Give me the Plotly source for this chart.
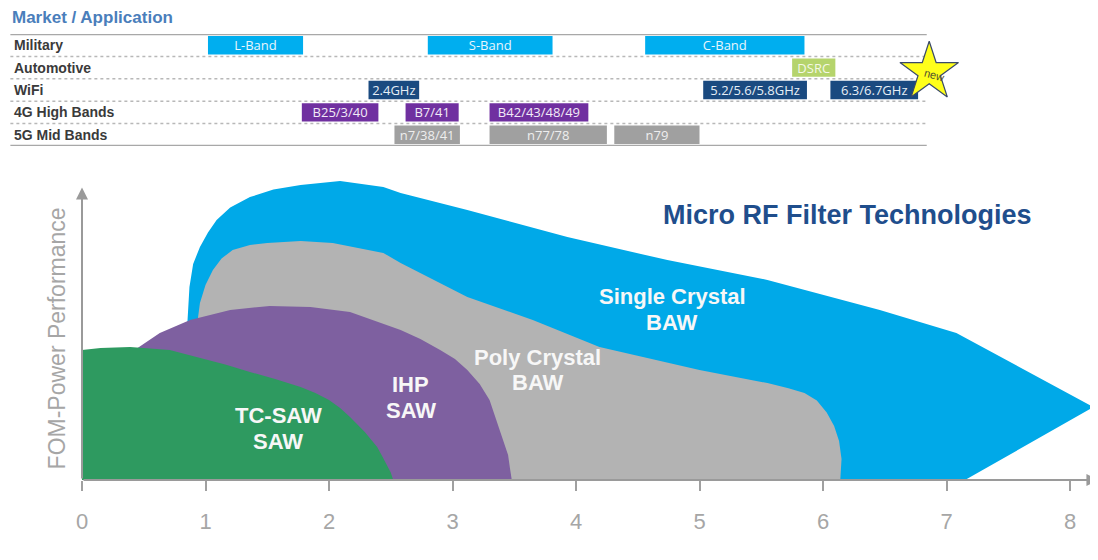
import plotly.graph_objects as go

# ---------------- data ----------------
# Technology regions: outline points (frequency in GHz, FOM-power performance in arbitrary units)
single_baw_x = [0.83, 0.84, 0.85, 0.87, 0.90, 0.955, 1.02, 1.09, 1.20, 1.36, 1.55, 1.77, 2.09, 2.44, 2.58, 3.12,
                3.93, 4.74, 5.55, 6.46, 7.08, 8.19, 7.15]
single_baw_y = [0, 26.7, 50.0, 64.3, 72.0, 77.7, 82.5, 86.7, 90.8, 94.3, 96.8, 98.3, 99.7, 97.7, 95.7, 90.0,
                81.0, 73.3, 66.7, 56.7, 49.0, 24.3, 0]

poly_baw_x = [0.93, 0.94, 0.955, 0.98, 1.00, 1.06, 1.13, 1.22, 1.36, 1.50, 1.77, 2.03, 2.44, 2.58, 3.12, 3.65,
              4.19, 5.00, 5.55, 5.72, 5.85, 5.95, 6.03, 6.09, 6.13, 6.15, 6.14]
poly_baw_y = [0, 54.3, 59.0, 62.5, 65.0, 70.0, 73.8, 76.7, 78.3, 79.0, 79.7, 79.0, 75.7, 72.3, 61.0, 53.3,
              44.3, 36.7, 32.3, 30.6, 29.0, 26.5, 22.5, 18.0, 13.0, 7.0, 0]

ihp_saw_x = [0.45, 0.45, 0.63, 0.875, 1.20, 1.52, 1.85, 2.17, 2.58, 2.74, 2.90, 3.02, 3.12, 3.22, 3.30, 3.34,
             3.38, 3.42, 3.45, 3.465, 3.48]
ihp_saw_y = [0, 44.0, 49.0, 53.3, 56.7, 58.0, 57.7, 56.0, 50.0, 47.0, 43.3, 40.3, 36.7, 32.0, 26.7, 21.8,
             16.7, 12.5, 8.3, 4.0, 0]

tc_saw_x = [0, 0, 0.15, 0.39, 0.71, 0.955, 1.16, 1.36, 1.57, 1.77, 1.89, 2.00, 2.09, 2.17, 2.23, 2.29, 2.34,
            2.39, 2.43, 2.47, 2.50, 2.52]
tc_saw_y = [0, 43.3, 44.0, 44.3, 43.3, 40.7, 38.5, 36.0, 33.6, 31.0, 29.0, 26.7, 24.0, 21.0, 18.5, 16.0, 13.5,
            11.0, 8.0, 5.0, 2.5, 0]

regions = [
    ("Single Crystal<br>BAW", single_baw_x, single_baw_y, "#00A9E8", 4.78, 56.8),
    ("Poly Crystal<br>BAW", poly_baw_x, poly_baw_y, "#B3B3B3", 3.69, 36.7),
    ("IHP<br>SAW", ihp_saw_x, ihp_saw_y, "#7E60A0", 2.66, 27.5),
    ("TC-SAW<br>SAW", tc_saw_x, tc_saw_y, "#2E9A60", 1.59, 17.2),
]

x_ticks = [0, 1, 2, 3, 4, 5, 6, 7, 8]

# Market / application table
rows = ["Military", "Automotive", "WiFi", "4G High Bands", "5G Mid Bands"]
band_rows = ["Military", "Military", "Military", "Automotive", "WiFi", "WiFi", "WiFi",
             "4G High Bands", "4G High Bands", "4G High Bands",
             "5G Mid Bands", "5G Mid Bands", "5G Mid Bands"]
band_labels = ["L-Band", "S-Band", "C-Band", "DSRC", "2.4GHz", "5.2/5.6/5.8GHz", "6.3/6.7GHz",
               "B25/3/40", "B7/41", "B42/43/48/49", "n7/38/41", "n77/78", "n79"]
band_start = [1.02, 2.80, 4.56, 5.75, 2.32, 5.03, 6.06, 1.78, 2.62, 3.30, 2.53, 3.30, 4.31]
band_end = [1.79, 3.81, 5.85, 6.10, 2.73, 5.87, 6.77, 2.40, 3.05, 4.10, 3.06, 4.25, 5.00]
row_colors = {"Military": "#00AEEF", "Automotive": "#B5D46C", "WiFi": "#1A4A80",
              "4G High Bands": "#7030A0", "5G Mid Bands": "#A0A0A0"}
row_text_colors = {"Military": "#E8F6FD", "Automotive": "#F4F8E6", "WiFi": "#E6EEF6",
                   "4G High Bands": "#F2EAF7", "5G Mid Bands": "#EEEEEE"}

# ---------------- layout constants (page has an 8px body margin) ----------------
W, H = 1090, 552
FONT = "Liberation Sans, Arial"
LINE_GAP = 8.6  # vertical distance between label lines, in y units

fig = go.Figure()

for name, xs, ys, col, lx, ly in regions:
    fig.add_trace(go.Scatter(x=xs, y=ys, mode="lines", fill="toself", fillcolor=col,
                             line=dict(width=0, color=col), hoverinfo="skip", showlegend=False))

for name, xs, ys, col, lx, ly in regions:
    parts = name.split("<br>")
    for j, p in enumerate(parts):
        fig.add_annotation(x=lx, y=ly + (len(parts) - 1) / 2 * LINE_GAP - j * LINE_GAP, xref="x", yref="y",
                           text="<b>" + p + "</b>", showarrow=False,
                           font=dict(family=FONT, size=22, color="#F7F7F7"), yanchor="middle")

# table bars
row_idx = [rows.index(r) for r in band_rows]
fig.add_trace(go.Bar(
    orientation="h", y=row_idx, base=band_start,
    x=[e - s for s, e in zip(band_start, band_end)],
    marker=dict(color=[row_colors[r] for r in band_rows], line=dict(width=0)),
    width=0.82, text=band_labels, textposition="inside", insidetextanchor="middle",
    constraintext="none",
    textfont=dict(family="Open Sans, Noto Sans", size=13, color=[row_text_colors[r] for r in band_rows]),
    xaxis="x", yaxis="y2", hoverinfo="skip", showlegend=False))

# star "new"
fig.add_trace(go.Scatter(x=[6.86], y=[1.2], xaxis="x", yaxis="y2", mode="markers",
                         marker=dict(symbol="star", size=44, color="#FFFF1A",
                                     line=dict(color="#3A4A6A", width=1.2)),
                         hoverinfo="skip", showlegend=False))
fig.add_annotation(x=6.90, y=1.35, xref="x", yref="y2", text="new", showarrow=False, textangle=15,
                   font=dict(family=FONT, size=11, color="#505030"))

# table lines
for k in range(1, len(rows)):
    fig.add_shape(type="line", xref="x", yref="y2", x0=-0.58, x1=6.84, y0=k - 0.5, y1=k - 0.5,
                  line=dict(color="#B8B8B8", width=1.5, dash="dot"), layer="below")
for yy in (-0.5, len(rows) - 0.5):
    fig.add_shape(type="line", xref="x", yref="y2", x0=-0.58, x1=6.84, y0=yy, y1=yy,
                  line=dict(color="#A8A8A8", width=2.5), layer="below")

for i, r in enumerate(rows):
    fig.add_annotation(x=-0.565, y=i, xref="x", yref="y2", text="<b>" + r + "</b>", showarrow=False,
                       xanchor="left", yanchor="middle",
                       font=dict(family=FONT, size=14, color="#3A3A3A"))

fig.add_annotation(x=-0.585, y=1 - 10 / H, xref="x", yref="paper", text="<b>Market / Application</b>",
                   showarrow=False, xanchor="left", yanchor="middle",
                   font=dict(family=FONT, size=17, color="#4A7EBB"))

# axes arrows
fig.add_annotation(x=8.23, y=0, ax=0, ay=0, xref="x", yref="y", axref="x", ayref="y", text="",
                   showarrow=True, arrowhead=2, arrowsize=1.2, arrowwidth=2, arrowcolor="#9A9A9A", standoff=0)
fig.add_annotation(x=0, y=97.5, ax=0, ay=0, xref="x", yref="y", axref="x", ayref="y", text="",
                   showarrow=True, arrowhead=2, arrowsize=1.2, arrowwidth=2, arrowcolor="#9A9A9A", standoff=0)

fig.add_annotation(x=-0.2, y=47.3, xref="x", yref="y", text="FOM-Power Performance", showarrow=False,
                   textangle=-90, font=dict(family=FONT, size=23, color="#A6A6A6"))
fig.add_annotation(x=3.91, y=-21.7, xref="x", yref="y", text="Frequency (GHz)", showarrow=False,
                   font=dict(family=FONT, size=22, color="#A6A6A6"))
fig.add_annotation(x=6.2, y=88.3, xref="x", yref="y", text="<b>Micro RF Filter Technologies</b>",
                   showarrow=False, font=dict(family=FONT, size=27, color="#1F4E8C"))

fig.update_layout(
    width=W, height=H, margin=dict(l=0, r=0, t=0, b=0),
    paper_bgcolor="white", plot_bgcolor="white", barmode="overlay",
    xaxis=dict(range=[-74 / 123.5, 1016 / 123.5], tickvals=x_ticks, ticktext=[str(t) for t in x_ticks],
               ticks="outside", ticklen=10, tickwidth=2, tickcolor="#A0A0A0",
               showgrid=False, zeroline=False, showline=False, anchor="y",
               tickfont=dict(family=FONT, size=22, color="#A6A6A6"),
               ticklabelstandoff=12),
    yaxis=dict(domain=[80 / H, 1], range=[0, 472 / 3], visible=False),
    yaxis2=dict(domain=[1 - 138 / H, 1 - 26 / H], range=[len(rows) - 0.5, -0.5],
                visible=False, anchor="x"),
)

fig.write_html("out.html")
